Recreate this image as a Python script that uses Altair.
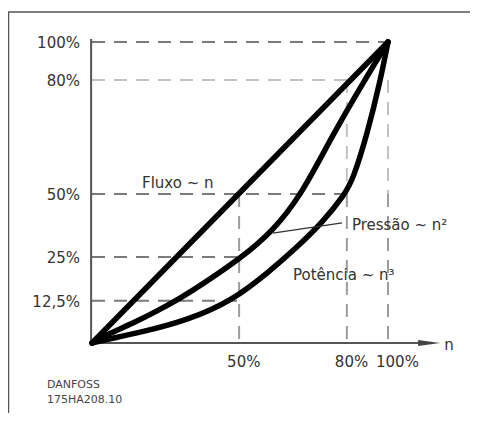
import altair as alt
import pandas as pd

# ---- data (schematic drawing units, 0..100 on both axes) ----
flux_n = [0, 100]
flux_v = [0, 100]

press_n = [0, 5.4, 15.5, 25.7, 32.4, 51.0, 61.1, 70.9, 80.7, 91.9, 100]
press_v = [0, 3.0, 7.3, 12.6, 16.3, 28.6, 37.2, 49.5, 68.1, 87.0, 100]

power_n = [0, 5.4, 15.5, 32.4, 47.3, 60.1, 69.3, 77.7, 85.5, 88.2, 92.9, 97.3, 100]
power_v = [0, 1.3, 3.3, 7.6, 14.0, 23.9, 31.9, 39.9, 49.5, 54.5, 69.1, 86.7, 100]

y_tick_vals = [100, 87.4, 49.5, 28.6, 14.0]
y_tick_labels = ["100%", "80%", "50%", "25%", "12,5%"]
x_tick_vals = [49.7, 86.1, 100]
x_tick_labels = ["50%", "80%", "100%"]

# guide lines: (x, x2, y, y2, tone)
guide_x = [0, 0, 0, 0, 0, 49.7, 86.1, 86.1, 100, 100]
guide_x2 = [100, 86.1, 86.1, 49.7, 49.7, 49.7, 86.1, 86.1, 100, 100]
guide_y = [100, 87.4, 49.5, 28.6, 14.0, 49.5, 87.4, 49.5, 87.4, 49.5]
guide_y2 = [100, 87.4, 49.5, 28.6, 14.0, 0, 49.5, 0, 49.5, 0]
guide_tone = ["dark", "light", "dark", "dark", "dark", "mid", "light", "mid", "light", "mid"]

ann_text = ["Fluxo ~ n", "Pressão ~ n²", "Potência ~ n³", "n"]
ann_x = [16.9, 87.8, 67.9, 119.0]
ann_y = [51.5, 37.5, 20.9, -2.3]

leader_x = [61.1, 84.5]
leader_y = [36.5, 39.9]

note_text = ["DANFOSS", "175HA208.10"]
note_x = [-15.2, -15.2]
note_y = [-15.0, -20.0]

# ---- tables ----
curves = pd.concat([
    pd.DataFrame({"n": flux_n, "v": flux_v, "s": "flux"}),
    pd.DataFrame({"n": press_n, "v": press_v, "s": "press"}),
    pd.DataFrame({"n": power_n, "v": power_v, "s": "power"}),
])
guides = pd.DataFrame({"x": guide_x, "x2": guide_x2, "y": guide_y, "y2": guide_y2, "tone": guide_tone})
axes_df = pd.DataFrame({"x": [-0.3, -0.3], "x2": [-0.3, 115.0], "y": [101.0, 0], "y2": [0, 0]})
yt = pd.DataFrame({"v": y_tick_vals, "label": y_tick_labels, "n": [0] * len(y_tick_vals)})
xt = pd.DataFrame({"n": x_tick_vals, "label": x_tick_labels, "v": [0] * len(x_tick_vals)})
ann = pd.DataFrame({"n": ann_x, "v": ann_y, "t": ann_text})
leader = pd.DataFrame({"n": leader_x, "v": leader_y})
notes = pd.DataFrame({"n": note_x, "v": note_y, "t": note_text})
arrow = pd.DataFrame({"n": [113.9], "v": [0]})

W = 462
xs = alt.Scale(domain=[-28.38, -28.38 + W / 2.96], nice=False, zero=False)
ys = alt.Scale(domain=[-23.26, 111.30], nice=False, zero=False)

def X(f):
    return alt.X(f, type="quantitative", scale=xs, axis=None)

def Y(f):
    return alt.Y(f, type="quantitative", scale=ys, axis=None)

FONT = "DejaVu Sans"

guide_layer = alt.Chart(guides).mark_rule(strokeDash=[13, 9], strokeWidth=2).encode(
    x=X("x"), x2="x2", y=Y("y"), y2="y2",
    color=alt.Color("tone:N", scale=alt.Scale(domain=["dark", "mid", "light"],
                                              range=["#7a7a7a", "#9c9c9c", "#c2c2c2"]), legend=None),
)

axis_layer = alt.Chart(axes_df).mark_rule(strokeWidth=2, color="#555").encode(
    x=X("x"), x2="x2", y=Y("y"), y2="y2"
)

arrow_layer = alt.Chart(arrow).mark_point(
    shape="M -1 -0.27 L 1 0 L -1 0.27 Z", size=484, filled=True, color="#444", opacity=1
).encode(x=X("n"), y=Y("v"))

curve_layer = alt.Chart(curves).mark_line(
    strokeWidth=5.5, color="black", interpolate="basis", strokeCap="round"
).encode(x=X("n"), y=Y("v"), detail="s:N")

leader_layer = alt.Chart(leader).mark_line(strokeWidth=1.3, color="#333").encode(
    x=X("n"), y=Y("v")
)

ytext = alt.Chart(yt).mark_text(align="right", baseline="middle", dx=-12, dy=1,
                                font=FONT, fontSize=15, color="#333").encode(
    x=X("n"), y=Y("v"), text="label:N")

xtext = alt.Chart(xt).mark_text(align="left", baseline="alphabetic", dx=-12, dy=24,
                                font=FONT, fontSize=15, color="#333").encode(
    x=X("n"), y=Y("v"), text="label:N")

ann_layer = alt.Chart(ann).mark_text(align="left", baseline="alphabetic",
                                     font=FONT, fontSize=15, color="#333").encode(
    x=X("n"), y=Y("v"), text="t:N")

note_layer = alt.Chart(notes).mark_text(align="left", baseline="alphabetic",
                                        font=FONT, fontSize=11, color="#444").encode(
    x=X("n"), y=Y("v"), text="t:N")

frame_top = alt.Chart(arrow).mark_rule(color="#555", strokeWidth=1.5).encode(
    x=alt.value(0), x2=alt.value(W), y=alt.value(4))
frame_left = alt.Chart(arrow).mark_rule(color="#555", strokeWidth=1.5).encode(
    x=alt.value(0.5), y=alt.value(4), y2=alt.value(405))

chart = alt.layer(
    frame_top, frame_left, guide_layer, axis_layer, arrow_layer, curve_layer, leader_layer,
    ytext, xtext, ann_layer, note_layer
).properties(
    width=W, height=405, padding=0, autosize=alt.AutoSizeParams(type="none")
).configure_view(strokeWidth=0)

chart.save("out.html", embed_options={"renderer": "svg", "actions": False})
